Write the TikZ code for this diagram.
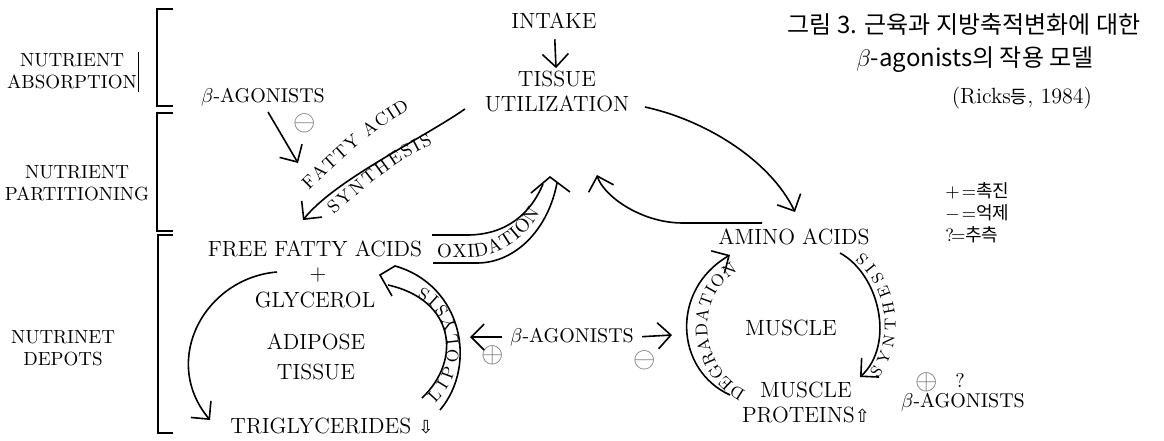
\documentclass[tikz,border=0pt]{standalone}
\usepackage{fontspec}
\newfontfamily\kofont{Noto Sans CJK KR}
\newfontfamily\symfont{DejaVu Sans}
\usetikzlibrary{arrows.meta,calc,decorations.text}

\begin{document}
\begin{tikzpicture}[x=0.5pt,y=-0.5pt,
  lbl/.style={font=\fontsize{11}{12.5}\selectfont,align=center,inner sep=1pt},
  side/.style={font=\fontsize{9.5}{11}\selectfont,align=center,inner sep=1pt},
  ago/.style={font=\fontsize{10}{11}\selectfont,inner sep=1pt},
  sgn/.style={font=\fontsize{14}{14}\selectfont,text=black!55,inner sep=0pt},
  legend/.style={font=\fontsize{9}{10}\selectfont,inner sep=0pt,anchor=west},
  ln/.style={line width=0.8pt},
  arr/.style={ln,-{Straight Barb[length=6.5pt,width=13pt]}},
  brk/.style={line width=0.7pt}]
\useasboundingbox (0,0) rectangle (1164,440);
%
% brackets and side labels
\draw[brk] (173,9) -| (157,106) -- (173,106);
\draw[brk] (173,113) -| (157,231) -- (173,231);
\draw[brk] (173,235) -| (158,433) -- (173,433);
\draw[line width=0.4pt] (138,52) -- (138,92);
\node[side] (absorb) at (72,71) {NUTRIENT\\ABSORPTION};
\node[side] (partit) at (77,183) {NUTRIENT\\PARTITIONING};
\node[side] (depots) at (63,348) {NUTRINET\\DEPOTS};
%
% title and legend
\node[font=\kofont\fontsize{12}{14}\selectfont,inner sep=0pt] (title) at (964,24) {그림 3. 근육과 지방축적변화에 대한};
\node[font=\kofont\fontsize{12}{14}\selectfont,inner sep=0pt] (title2) at (975,60) {$\beta$-agonists의 작용 모델};
\node[font=\fontsize{11}{12}\selectfont,inner sep=0pt] (source) at (1022,98) {(Ricks{\kofont\fontsize{9}{10}\selectfont 등}, 1984)};
\node[legend] (lgPlus) at (945,191) {$+\!=${\kofont 촉진}};
\node[legend] (lgMinus) at (945,213) {$-\!=${\kofont 억제}};
\node[legend] (lgQuery) at (945,235) {?$\!=${\kofont 추측}};
%
% main nodes
\node[lbl] (intake) at (554,21) {INTAKE};
\node[lbl] (util) at (557,91) {TISSUE\\UTILIZATION};
\node[lbl] (ffa) at (315,249) {FREE FATTY ACIDS};
\node[lbl] (plus) at (318,275) {+};
\node[lbl] (glyc) at (315,300) {GLYCEROL};
\node[lbl,font=\fontsize{11}{15}\selectfont] (adip) at (316,357) {ADIPOSE\\TISSUE};
\node[lbl] (tg) at (332,426) {TRIGLYCERIDES {\symfont\fontsize{9}{10}\selectfont ⇩}};
\node[lbl] (amino) at (794,237) {AMINO ACIDS};
\node[lbl] (muscle) at (791,328) {MUSCLE};
\node[lbl] (mprot) at (806,402) {MUSCLE\\PROTEINS{\symfont\fontsize{9}{10}\selectfont ⇧}};
%
% agonists and signs
\node[ago] (betaTop) at (263,97) {$\beta$-AGONISTS};
\node[sgn] (minusTop) at (305,123) {$\ominus$};
\node[ago] (betaMid) at (572,337) {$\beta$-AGONISTS};
\node[sgn] (plusMid) at (493,355) {$\oplus$};
\node[sgn] (minusMid) at (645,360) {$\ominus$};
\node[sgn] (plusRight) at (927,382) {$\oplus$};
\node[ago] (query) at (960,380) {?};
\node[ago] (betaRight) at (963,402) {$\beta$-AGONISTS};
%
% intake and fatty acid synthesis
\draw[arr,shorten <=4pt] (intake) -- (util);
\draw[arr] ($(util)+(-92,18)$) .. controls (420,140) and (335,180) .. ($(ffa)+(-12,-29)$);
\path[decorate,decoration={text along path,text align=fit to path,
  text={|\fontsize{9}{10}\selectfont|FATTY ACID}}]
  (309,191) .. controls (340,160) and (372,131) .. (410,109);
\path[decorate,decoration={text along path,text align=fit to path,
  text={|\fontsize{9}{10}\selectfont|SYNTHESIS}}]
  (334,215) .. controls (366,186) and (396,161) .. (433,144);
\draw[arr] ($(betaTop)+(5,15)$) -- ($(betaTop)+(35,66)$);
%
% oxidation band
\coordinate (oxTip) at ($(util)+(-7,86)$);
\draw[ln] ($(ffa)+(117,-14)$) -- (467,235) .. controls (505,235) and (530,215) .. (543,184);
\draw[ln] ($(ffa)+(118,14)$) -- (477,263) .. controls (515,263) and (548,230) .. (557,183);
\draw[ln] (531,193) -- (oxTip) -- (570,192);
\path[decorate,decoration={text along path,text align=fit to path,
  text={|\fontsize{9.5}{10}\selectfont|OXIDATION}}]
  (437,257) -- (470,257) .. controls (502,256) and (527,236) .. (540,212);
%
% amino acids and tissue
\draw[arr] ($(util)+(88,16)$) .. controls (705,120) and (770,160) .. ($(amino)+(1,-25)$);
\draw[arr] ($(amino)+(-32,-14)$) -- (683,223) .. controls (640,223) and (603,195) .. ($(util)+(40,84)$);
%
% adipose tissue cycle
\draw[arr] ($(ffa)+(-38,23)$) .. controls (205,278) and (160,360) .. ($(tg)+(-122,-6)$);
\coordinate (lipoTip) at ($(ffa)+(65,26)$);
\draw[ln] ($(tg)+(108,-16)$) .. controls (478,365) and (462,285) .. (395,266) -- (lipoTip) -- (392,296);
\draw[ln] ($(tg)+(90,-28)$) .. controls (462,360) and (455,300) .. (388,285);
\path[decorate,decoration={text along path,text align=fit to path,
  text={|\fontsize{8.5}{10}\selectfont|LIPOLYSIS}}]
  (435,403) .. controls (472,368) and (464,305) .. (422,287);
\draw[arr,shorten <=3pt] (betaMid.west) -- ($(betaMid)+(-102,0)$);
\draw[arr,shorten <=3pt] (betaMid.east) -- ($(betaMid)+(100,-2)$);
%
% muscle cycle
\draw[arr] ($(mprot)+(-76,-7)$) .. controls (675,370) and (670,290) .. ($(amino)+(-64,18)$);
\path[decorate,decoration={text along path,text align=fit to path,
  text={|\fontsize{8.5}{10}\selectfont|DEGRADATION}}]
  (746,391) .. controls (698,367) and (694,295) .. (738,271);
\draw[arr] ($(amino)+(46,16)$) .. controls (880,275) and (895,345) .. ($(mprot)+(54,-25)$);
\path[decorate,decoration={text along path,text align=fit to path,
  text={|\fontsize{8}{10}\selectfont|SYNTHESIS}}]
  (878,378) .. controls (905,345) and (902,285) .. (862,252);
%
\end{tikzpicture}
\end{document}
